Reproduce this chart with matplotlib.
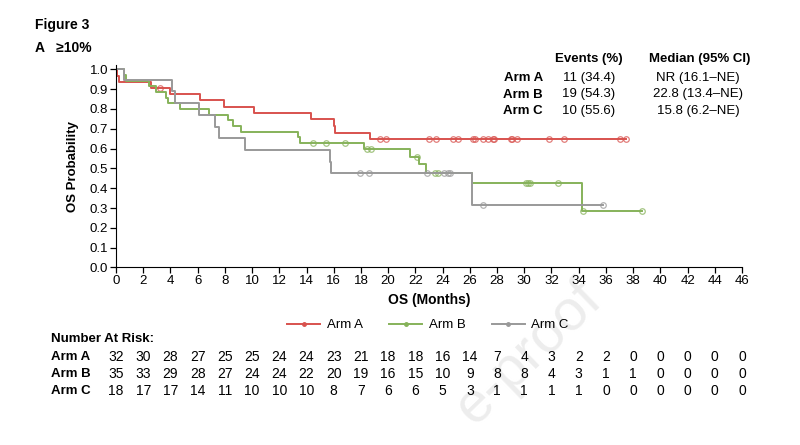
import numpy as np
import matplotlib.pyplot as plt
from matplotlib.lines import Line2D

plt.rcParams['font.family'] = ['Liberation Sans', 'DejaVu Sans']

# KM step data (event time in months, survival after it)
a_times = [0, 0.05, 0.25, 2.55, 4.0, 6.2, 7.95, 10.15, 14.3, 16.0, 16.1, 18.7]
a_surv = [1.0, 0.969, 0.938, 0.906, 0.875, 0.843, 0.812, 0.781, 0.747, 0.714, 0.679, 0.646]
a_cens = [3.2, 19.4, 19.85, 23.0, 23.5, 24.8, 25.1, 26.2, 26.35, 26.96, 27.3, 27.7, 27.8,
          29.0, 29.1, 29.5, 31.8, 32.9, 37.0, 37.5]

b_times = [0, 0.6, 0.7, 2.4, 2.95, 3.7, 3.85, 4.7, 6.86, 8.2, 8.6, 9.2, 13.35, 13.5,
           18.2, 21.57, 22.28, 22.77, 26.15, 34.24]
b_surv = [1.0, 0.971, 0.943, 0.914, 0.886, 0.857, 0.829, 0.80, 0.771, 0.743, 0.714, 0.686,
          0.657, 0.629, 0.597, 0.559, 0.52, 0.477, 0.424, 0.286]
b_cens = [14.5, 15.4, 16.8, 18.43, 18.73, 22.1, 23.45, 23.65, 30.15, 30.27, 30.4, 32.45,
          34.3, 38.65]

c_times = [0, 0.6, 4.1, 4.3, 6.1, 7.3, 7.57, 9.5, 15.7, 15.8, 26.15]
c_surv = [1.0, 0.944, 0.889, 0.831, 0.771, 0.711, 0.652, 0.593, 0.534, 0.476, 0.317]
c_cens = [17.95, 18.6, 22.85, 24.07, 24.4, 24.56, 26.94, 35.76]

arm_names = ['Arm A', 'Arm B', 'Arm C']
events_pct = ['11 (34.4)', '19 (54.3)', '10 (55.6)']
medians = ['NR (16.1\u2013NE)', '22.8 (13.4\u2013NE)', '15.8 (6.2\u2013NE)']

risk_times = list(range(0, 47, 2))
risk_a = [32, 30, 28, 27, 25, 25, 24, 24, 23, 21, 18, 18, 16, 14, 7, 4, 3, 2, 2, 0, 0, 0, 0, 0]
risk_b = [35, 33, 29, 28, 27, 24, 24, 22, 20, 19, 16, 15, 10, 9, 8, 8, 4, 3, 1, 1, 0, 0, 0, 0]
risk_c = [18, 17, 17, 14, 11, 10, 10, 10, 8, 7, 6, 6, 5, 3, 1, 1, 1, 1, 0, 0, 0, 0, 0, 0]

colors = ['#d8524e', '#86b25a', '#999999']

fig = plt.figure(figsize=(8, 4.45), dpi=100)

# faint watermark, only the visible part of it
fig.text(594 / 800, 1 - 290 / 445, 'e-proof', fontsize=41, color='#ededed',
         rotation=44, ha='right', va='center', rotation_mode='anchor', zorder=-10)

ax = fig.add_axes([0.145, 0.399, 0.7825, 0.454])
ax.patch.set_alpha(0)

arms = [(a_times, a_surv, a_cens), (b_times, b_surv, b_cens), (c_times, c_surv, c_cens)]
for (t, s, cens), col in zip(arms, colors):
    t_end = max(max(t), max(cens))
    tt = list(t) + [t_end]
    ss = list(s) + [s[-1]]
    ax.step(tt, ss, where='post', color=col, lw=1.4)
    idx = np.searchsorted(t, cens, side='right') - 1
    cy = np.array(s)[idx]
    ax.plot(cens, cy, 'o', ms=4, mfc='none', mec=col, mew=0.9, alpha=0.75)

ax.set_xlim(0, 46)
ax.set_ylim(0, 1.02)
ax.set_xticks(range(0, 47, 2))
ax.set_yticks(np.arange(0, 1.01, 0.1))
ax.set_yticklabels([f'{v:.1f}' for v in np.arange(0, 1.01, 0.1)])
ax.spines['top'].set_visible(False)
ax.spines['right'].set_visible(False)
ax.spines['left'].set_bounds(0, 1.02)
ax.tick_params(labelsize=9.5, length=4, width=0.9, pad=1.5)
ax.set_ylabel('OS Probability', fontsize=9.5, fontweight='bold', labelpad=8)
ax.set_xlabel('OS (Months)', fontsize=10, fontweight='bold', labelpad=4)

# titles
fig.text(35 / 800, 1 - 25 / 445, 'Figure 3', fontsize=10, fontweight='bold', va='center')
fig.text(35 / 800, 1 - 47.5 / 445, 'A   \u226510%', fontsize=10, fontweight='bold', va='center')

# summary table
fig.text(589 / 800, 1 - 59 / 445, 'Events (%)', fontsize=9.5, fontweight='bold', ha='center', va='center')
fig.text(700 / 800, 1 - 59 / 445, 'Median (95% CI)', fontsize=9.5, fontweight='bold', ha='center', va='center')
for i, (nm, ev, md) in enumerate(zip(arm_names, events_pct, medians)):
    y = 1 - (78 + 16.5 * i) / 445
    fig.text(543 / 800, y, nm, fontsize=9.5, fontweight='bold', ha='right', va='center')
    fig.text(589 / 800, y, ev, fontsize=9.5, ha='center', va='center')
    fig.text(698 / 800, y, md, fontsize=9.5, ha='center', va='center')

# legend
handles = [Line2D([], [], color=c, lw=1.4, marker='o', ms=2.5) for c in colors]
fig.legend(handles, arm_names, loc='center', bbox_to_anchor=(428 / 800, 1 - 325 / 445),
           ncol=3, frameon=False, fontsize=9.5, handlelength=2.5, handletextpad=0.5,
           columnspacing=2.0)

# number at risk
fig.text(51 / 800, 1 - 339 / 445, 'Number At Risk:', fontsize=9.5, fontweight='bold', va='center')
for i, (nm, row) in enumerate(zip(arm_names, [risk_a, risk_b, risk_c])):
    y = 1 - (357 + 16.8 * i) / 445
    fig.text(51 / 800, y, nm, fontsize=9.5, fontweight='bold', va='center')
    for t, n in zip(risk_times, row):
        xf = ax.transData.transform((t, 0))[0] / fig.bbox.width
        fig.text(xf, y, str(n), fontsize=10, ha='center', va='center')

fig.savefig('out.png', dpi=100)
